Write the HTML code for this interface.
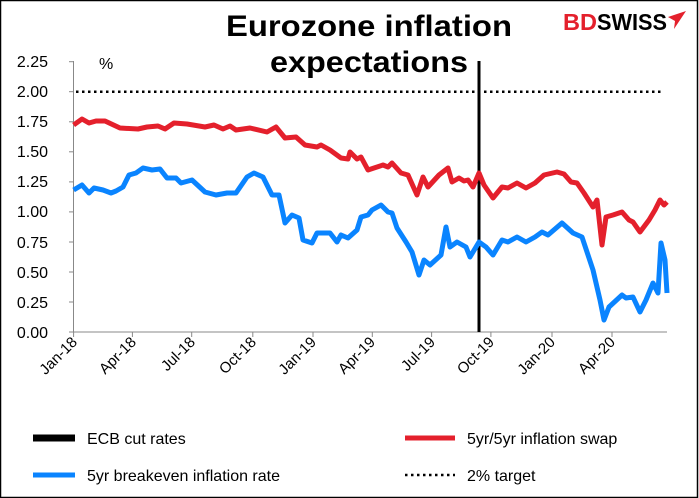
<!DOCTYPE html>
<html><head><style>
body{margin:0;width:699px;height:498px;overflow:hidden;background:#fff;}
svg{display:block;font-family:"Liberation Sans",Arial,sans-serif;}
</style></head><body>
<svg width="699" height="498" viewBox="0 0 699 498">
<rect x="0.5" y="0.5" width="697" height="497" fill="#fff" stroke="#000" stroke-width="1.5"/>
<text x="226" y="36" font-size="30" font-weight="bold" textLength="286" lengthAdjust="spacingAndGlyphs">Eurozone inflation</text>
<text x="270" y="72" font-size="30" font-weight="bold" textLength="198" lengthAdjust="spacingAndGlyphs">expectations</text>
<text x="563" y="30" font-size="23" font-weight="bold" fill="#e4202c" textLength="34" lengthAdjust="spacingAndGlyphs">BD</text>
<text x="597" y="30" font-size="23" font-weight="bold" fill="#000" textLength="70" lengthAdjust="spacingAndGlyphs">SWISS</text>
<path d="M668 17 L686 11 L674 29 L675 21 Z" fill="#e4202c"/>
<g font-size="16" text-anchor="end">
<text x="48" y="67">2.25</text><text x="48" y="97">2.00</text><text x="48" y="127">1.75</text>
<text x="48" y="157">1.50</text><text x="48" y="187">1.25</text><text x="48" y="217">1.00</text>
<text x="48" y="248">0.75</text><text x="48" y="278">0.50</text><text x="48" y="308">0.25</text>
<text x="48" y="338">0.00</text>
</g>
<text x="99" y="69" font-size="16">%</text>
<g stroke="#888" stroke-width="1">
<line x1="73.5" y1="61" x2="73.5" y2="332"/>
<line x1="73.5" y1="332" x2="667" y2="332"/>
<line x1="69" y1="61.7" x2="73.5" y2="61.7"/><line x1="69" y1="91.7" x2="73.5" y2="91.7"/>
<line x1="69" y1="121.8" x2="73.5" y2="121.8"/><line x1="69" y1="151.8" x2="73.5" y2="151.8"/>
<line x1="69" y1="181.9" x2="73.5" y2="181.9"/><line x1="69" y1="211.9" x2="73.5" y2="211.9"/>
<line x1="69" y1="242" x2="73.5" y2="242"/><line x1="69" y1="272" x2="73.5" y2="272"/>
<line x1="69" y1="302" x2="73.5" y2="302"/><line x1="69" y1="332" x2="73.5" y2="332"/>
<line x1="73.6" y1="332" x2="73.6" y2="337"/><line x1="132.4" y1="332" x2="132.4" y2="337"/>
<line x1="191.7" y1="332" x2="191.7" y2="337"/><line x1="252.8" y1="332" x2="252.8" y2="337"/>
<line x1="313" y1="332" x2="313" y2="337"/><line x1="372.3" y1="332" x2="372.3" y2="337"/>
<line x1="431.6" y1="332" x2="431.6" y2="337"/><line x1="490.9" y1="332" x2="490.9" y2="337"/>
<line x1="552" y1="332" x2="552" y2="337"/><line x1="612" y1="332" x2="612" y2="337"/>
</g>
<g font-size="15" text-anchor="end">
<text transform="translate(78,343) rotate(-45)">Jan-18</text>
<text transform="translate(137,343) rotate(-45)">Apr-18</text>
<text transform="translate(196,343) rotate(-45)">Jul-18</text>
<text transform="translate(257,343) rotate(-45)">Oct-18</text>
<text transform="translate(317,343) rotate(-45)">Jan-19</text>
<text transform="translate(376,343) rotate(-45)">Apr-19</text>
<text transform="translate(436,343) rotate(-45)">Jul-19</text>
<text transform="translate(495,343) rotate(-45)">Oct-19</text>
<text transform="translate(556,343) rotate(-45)">Jan-20</text>
<text transform="translate(616,343) rotate(-45)">Apr-20</text>
</g>
<line x1="76" y1="91.7" x2="663" y2="91.7" stroke="#000" stroke-width="2.5" stroke-dasharray="2.5,3.5"/>
<line x1="479" y1="61" x2="479" y2="332" stroke="#000" stroke-width="3"/>
<polyline fill="none" stroke="#e4202c" stroke-width="5" stroke-linejoin="round" points="73.6,125 82,119 89,123 96,121 105,121 120,128 138,129 147,127 158,126 165,129 174,123 187,124 205,127 214,125 223,129 230,126 236,130 250,128 267,132 276,127 285,138 296,137 305,145 317,147 321,145 330,150 341,158 348,159 350,152 357,159 361,157 368,170 374,168 383,165 388,167 392,163 401,173 408,175 417,195 423,177 428,187 439,175 448,168 452,182 459,178 464,181 468,180 473,187 479,173 484,185 493,198 502,187 508,188 517,183 526,188 535,183 544,175 557,172 564,174 571,182 577,183 584,193 593,207 597,200 602,245 606,217 613,215 622,212 629,220 633,222 640,232 649,220 655,210 660,200 664,205 667,202"/>
<polyline fill="none" stroke="#0a84ff" stroke-width="5" stroke-linejoin="round" points="73.6,190 82,185 89,193 94,188 103,190 111,193 116,191 123,187 129,175 136,173 143,168 152,170 160,169 167,178 176,178 181,183 192,180 205,192 216,195 227,193 236,193 247,177 254,173 263,177 267,185 272,195 279,195 285,223 292,215 299,218 303,240 312,243 317,233 330,233 337,242 341,235 348,238 357,230 361,217 368,215 372,210 381,205 388,212 392,213 397,228 406,242 412,252 419,275 424,260 430,265 441,255 446,227 450,247 457,242 466,247 470,257 479,242 486,247 493,255 502,240 508,242 517,237 526,242 535,237 542,232 548,235 562,223 573,233 582,237 593,270 600,300 604,320 609,307 622,295 626,298 633,297 640,312 646,300 653,283 658,293 661,243 665,260 667,293"/>
<line x1="33" y1="438" x2="75" y2="438" stroke="#000" stroke-width="7"/>
<text x="87" y="444" font-size="16">ECB cut rates</text>
<line x1="405" y1="438" x2="455" y2="438" stroke="#e4202c" stroke-width="5"/>
<text x="467" y="444" font-size="16">5yr/5yr inflation swap</text>
<line x1="33" y1="475" x2="75" y2="475" stroke="#0a84ff" stroke-width="5"/>
<text x="87" y="481" font-size="16">5yr breakeven inflation rate</text>
<line x1="405" y1="475" x2="455" y2="475" stroke="#000" stroke-width="2.5" stroke-dasharray="2.5,3.5"/>
<text x="467" y="481" font-size="16">2% target</text>
</svg>
</body></html>
